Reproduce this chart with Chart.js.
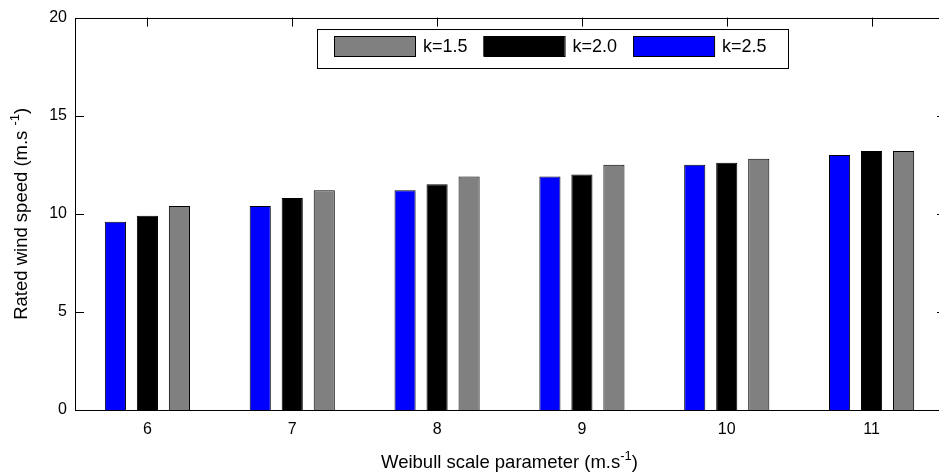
<!DOCTYPE html>
<html>
<head>
<meta charset="utf-8">
<script src="https://cdn.jsdelivr.net/npm/chart.js@4"></script>
<style>
  html, body { margin: 0; padding: 0; background: #fff; overflow: hidden; }
  #wrap { position: absolute; left: 0; top: 0; }
</style>
</head>
<body>
<div id="wrap"><canvas id="windChart" width="950" height="475"></canvas></div>
<script>
const categories = ['6', '7', '8', '9', '10', '11'];
const k25 = [9.6, 10.4, 11.2, 11.9, 12.5, 13.0];
const k20 = [9.9, 10.8, 11.5, 12.0, 12.6, 13.2];
const k15 = [10.4, 11.2, 11.9, 12.5, 12.8, 13.2];
const yTicks = [0, 5, 10, 15, 20];

const FONT = "'Liberation Sans', Arial, sans-serif";
const TITLE_SIZE = 18.5;

// frame, inward ticks, axis titles with superscripts and the boxed legend
const matlabLook = {
  id: 'matlabLook',
  afterDraw(chart) {
    const ctx = chart.ctx;
    const a = chart.chartArea;
    const xs = chart.scales.x, ys = chart.scales.y;
    ctx.save();
    ctx.strokeStyle = '#000';
    ctx.lineWidth = 1;
    ctx.strokeRect(Math.round(a.left) + 0.5, Math.round(a.top) + 0.5,
      Math.round(a.right - a.left), Math.round(a.bottom - a.top));

    ctx.beginPath();
    yTicks.forEach(v => {
      const y = Math.round(ys.getPixelForValue(v)) + 0.5;
      ctx.moveTo(a.left, y); ctx.lineTo(a.left + 9, y);
      ctx.moveTo(a.right, y); ctx.lineTo(a.right - 7, y);
    });
    categories.forEach((c, i) => {
      const x = Math.round(xs.getPixelForValue(i)) + 0.5;
      ctx.moveTo(x, a.top); ctx.lineTo(x, a.top + 9);
    });
    ctx.stroke();

    // axis titles
    ctx.fillStyle = '#000';
    ctx.textBaseline = 'alphabetic';
    const drawTitle = (main, sup, tail) => {
      ctx.font = TITLE_SIZE + 'px ' + FONT;
      const w1 = ctx.measureText(main).width;
      const w3 = ctx.measureText(tail).width;
      ctx.font = '13px ' + FONT;
      const w2 = ctx.measureText(sup).width;
      let x = -(w1 + w2 + w3) / 2;
      ctx.font = TITLE_SIZE + 'px ' + FONT;
      ctx.textAlign = 'left';
      ctx.fillText(main, x, 0);
      x += w1;
      ctx.font = '13px ' + FONT;
      ctx.fillText(sup, x, -8);
      x += w2;
      ctx.font = TITLE_SIZE + 'px ' + FONT;
      ctx.fillText(tail, x, 0);
    };
    ctx.save();
    ctx.translate((a.left + a.right) / 2, 468);
    drawTitle('Weibull scale parameter (m.s', '-1', ')');
    ctx.restore();
    ctx.save();
    ctx.translate(27, (a.top + a.bottom) / 2);
    ctx.rotate(-Math.PI / 2);
    drawTitle('Rated wind speed (m.s ', '-1', ')');
    ctx.restore();

    // legend, listed in reverse dataset order
    const boxX = 317, boxY = 29, boxW = 471, boxH = 39;
    ctx.fillStyle = '#fff';
    ctx.fillRect(boxX, boxY, boxW, boxH);
    ctx.strokeRect(boxX + 0.5, boxY + 0.5, boxW, boxH);
    ctx.font = '18px ' + FONT;
    ctx.textBaseline = 'middle';
    let x = 334;
    chart.data.datasets.slice().reverse().forEach(ds => {
      ctx.fillStyle = ds.backgroundColor;
      ctx.fillRect(x, 36, 81, 20);
      ctx.strokeRect(x + 0.5, 36.5, 81, 20);
      ctx.fillStyle = '#000';
      ctx.fillText(ds.label, x + 89, 47);
      x += 89 + ctx.measureText(ds.label).width + 16;
    });
    ctx.restore();
  }
};

new Chart(document.getElementById('windChart'), {
  type: 'bar',
  data: {
    labels: categories,
    datasets: [
      { label: 'k=2.5', data: k25, backgroundColor: '#0000ff' },
      { label: 'k=2.0', data: k20, backgroundColor: '#000000' },
      { label: 'k=1.5', data: k15, backgroundColor: '#808080' }
    ].map(d => Object.assign(d, {
      borderColor: '#000', borderWidth: 1,
      categoryPercentage: 0.663, barPercentage: 0.66
    }))
  },
  options: {
    responsive: false,
    animation: false,
    devicePixelRatio: 1,
    layout: { padding: { top: 14, right: 6, left: 0, bottom: 0 } },
    plugins: { legend: { display: false }, tooltip: { enabled: false } },
    scales: {
      x: {
        offset: true,
        grid: { display: false, drawTicks: false },
        border: { display: false },
        ticks: { color: '#000', font: { family: FONT, size: 16 }, padding: 10 },
        afterFit: s => { s.height = 65; }
      },
      y: {
        min: 0, max: 20,
        grid: { display: false, drawTicks: false },
        border: { display: false },
        ticks: { color: '#000', font: { family: FONT, size: 16 }, padding: 8, stepSize: 5 },
        afterFit: s => { s.width = 75; }
      }
    }
  },
  plugins: [matlabLook]
});
</script>
</body>
</html>
